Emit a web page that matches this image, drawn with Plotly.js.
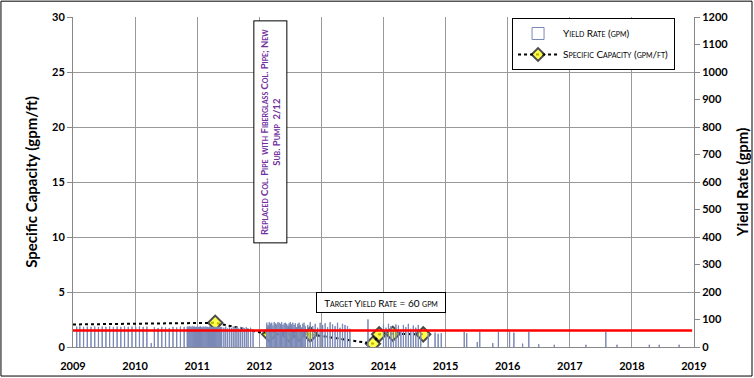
<!DOCTYPE html>
<html><head><meta charset="utf-8">
<script src="https://cdn.plot.ly/plotly-3.0.1.min.js"></script>
<style>html,body{margin:0;padding:0;background:#fff}#chart{width:754px;height:378px}</style>
</head><body><div id="chart"></div>
<script>
// Yield rate bars (decimal year, gpm)
const yieldX = [
 2009.06,2009.11,2009.17,2009.23,2009.29,2009.35,2009.41,2009.47,2009.53,2009.59,2009.65,2009.71,2009.77,2009.83,2009.89,2009.95,
 2010.01,2010.07,2010.13,2010.19,2010.26,2010.31,2010.37,2010.43,2010.49,2010.55,2010.61,2010.67,2010.73,2010.79,
 2010.84,2010.855,2010.87,2010.885,2010.90,2010.915,2010.93,2010.945,2010.96,2010.975,2010.99,2011.005,2011.02,2011.035,2011.05,2011.065,2011.08,2011.095,2011.11,2011.125,2011.14,2011.155,2011.17,2011.185,2011.20,2011.215,2011.23,2011.245,2011.26,2011.275,2011.29,2011.305,2011.32,2011.335,2011.35,2011.365,2011.38,2011.395,
 2011.43,2011.46,2011.49,2011.52,2011.55,2011.58,2011.61,2011.64,2011.67,2011.70,2011.73,2011.76,2011.79,2011.82,2011.86,2011.90,
 2012.12,2012.14,2012.16,2012.18,2012.20,2012.22,2012.24,2012.26,2012.28,2012.30,2012.32,2012.34,2012.36,2012.38,2012.40,2012.42,2012.44,2012.46,2012.48,2012.50,2012.52,2012.54,2012.56,2012.58,2012.60,2012.62,2012.64,2012.66,2012.68,2012.70,2012.72,2012.74,
 2012.78,2012.82,2012.86,2012.90,2012.94,2012.98,2013.02,2013.06,2013.10,2013.14,2013.18,2013.22,2013.26,2013.30,2013.34,2013.38,2013.42,2013.46,
 2013.75,
 2014.00,2014.04,2014.08,2014.12,2014.16,2014.20,2014.24,2014.28,2014.32,2014.36,2014.40,2014.44,2014.48,2014.52,2014.56,2014.60,
 2014.72,2014.83,2014.88,2014.93,2015.30,2015.34,2015.51,2015.55,2015.76,2015.85,2016.03,2016.10,2016.24,2016.34,2016.50,2016.75,2017.26,2017.58,2017.76,2018.28,2018.44,2018.76
];
const yieldY = [
 74,75,73,74,73,75,73,74,73,75,73,74,73,75,73,74,
 73,75,73,74,14,72,69,73,71,69,73,71,74,73,
 74,72,75,73,74,72,75,73,74,72,73,74,72,73,75,72,71,74,72,73,74,72,73,71,74,72,73,72,74,72,73,71,72,74,72,71,73,72,
 70,74,67,72,68,74,70,72,67,73,70,68,72,66,70,64,
 88,80,90,85,88,78,90,86,82,90,88,84,90,80,86,88,84,78,86,90,82,88,80,86,72,84,88,80,70,84,88,76,
 80,90,76,84,70,88,80,86,72,90,82,76,88,70,84,80,76,66,
 100,
 80,70,84,76,60,82,78,64,80,72,84,66,78,70,80,62,
 50,52,48,50,55,50,18,55,14,55,55,52,12,55,10,8,8,55,8,8,8,8
];
// Specific capacity (decimal year, gpm/ft)
const capX = [2009.0, 2011.29, 2012.16, 2012.48, 2012.64, 2012.82, 2013.83, 2013.93, 2014.15, 2014.64];
const capY = [2.05, 2.2, 1.15, 1.15, 1.2, 1.15, 0.3, 1.15, 1.2, 1.15];
const capMarkerSize = [0, 11, 11, 11, 11, 11, 11, 11, 11, 11];
// Target yield rate line
const targetX = [2009.0, 2018.97];
const targetY = [60, 60];
const yearTicks = [2009,2010,2011,2012,2013,2014,2015,2016,2017,2018,2019];

const fontFam = 'Lato, "Open Sans", sans-serif';
const traces = [
 {type:'bar', x:yieldX, y:yieldY, yaxis:'y2', name:'Yield Rate (gpm)', width:0.004,
  marker:{color:'#ffffff', line:{color:'#7A88B6', width:1}}, legendgroup:'a'},
 {type:'scatter', mode:'lines+markers', x:capX, y:capY, name:'Specific Capacity (gpm/ft)',
  line:{color:'#000000', width:2, dash:'dot'},
  marker:{symbol:'diamond', size:capMarkerSize, color:'#FFFF00', line:{color:'#000000', width:2}}, legendgroup:'b'},
 {type:'scatter', mode:'lines', x:targetX, y:targetY, yaxis:'y2', showlegend:false,
  line:{color:'#FF0000', width:2.5}, hoverinfo:'skip'}
];
const layout = {
 width:754, height:378,
 margin:{l:73, r:60, t:17, b:31},
 paper_bgcolor:'#ffffff', plot_bgcolor:'#ffffff',
 font:{family:fontFam, color:'#000'},
 showlegend:true,
 legend:{x:0.707, y:0.997, xanchor:'left', yanchor:'top', bgcolor:'#ffffff', bordercolor:'#000', borderwidth:1,
   font:{size:10, family:fontFam, variant:'small-caps', color:'#000'}, traceorder:'grouped', tracegroupgap:2, itemwidth:40},
 bargap:0,
 xaxis:{range:[2009,2019], tickvals:yearTicks, ticktext:yearTicks.map(String), showgrid:true, gridcolor:'#9a9a9a', gridwidth:1,
   zeroline:false, showline:true, linecolor:'#888', ticks:'outside', ticklen:9, tickcolor:'rgba(0,0,0,0)',
   tickfont:{size:11, family:fontFam, weight:'bold'}},
 yaxis:{range:[0,30], dtick:5, showgrid:true, gridcolor:'#9a9a9a', zeroline:false, showline:true, linecolor:'#888',
   ticks:'outside', ticklen:5, tickcolor:'#888', tickfont:{size:11, family:fontFam, weight:'bold'},
   title:{text:'Specific Capacity (gpm/ft)', font:{size:15, family:fontFam, weight:'bold'}, standoff:10}},
 yaxis2:{range:[0,1200], dtick:100, overlaying:'y', side:'right', showgrid:false, zeroline:false, showline:true, linecolor:'#888',
   ticks:'outside', ticklen:5, tickcolor:'#888', tickfont:{size:11, family:fontFam, weight:'bold'},
   title:{text:'Yield Rate (gpm)', font:{size:15, family:fontFam, weight:'bold'}, standoff:10}},
 annotations:[
  {xref:'paper', yref:'paper', x:0.317, y:0.653, xanchor:'center', yanchor:'middle',
   text:'Replaced Col. Pipe  with Fiberglass Col. Pipe; New<br>Sub. Pump  2/12',
   textangle:-90, showarrow:false, width:219, height:30, bgcolor:'#fff', bordercolor:'#000', borderwidth:1, borderpad:1,
   font:{size:9.5, family:fontFam, weight:'bold', variant:'small-caps', color:'#7030A0'}},
  {xref:'paper', yref:'paper', x:0.496, y:0.136, xanchor:'center', yanchor:'middle', text:'Target Yield Rate = 60 gpm', showarrow:false,
   width:126, height:17, bgcolor:'#fff', bordercolor:'#000', borderwidth:1, borderpad:1,
   font:{size:10, family:fontFam, variant:'small-caps', color:'#000'}}
 ],
 shapes:[
  {type:'rect', xref:'paper', yref:'paper', x0:-0.116, x1:1.0934, y0:-0.088, y1:1.048, line:{color:'#000', width:1}, fillcolor:'rgba(0,0,0,0)'}
 ]
};
Plotly.newPlot('chart', traces, layout, {displayModeBar:false, staticPlot:true});
</script>
</body></html>
